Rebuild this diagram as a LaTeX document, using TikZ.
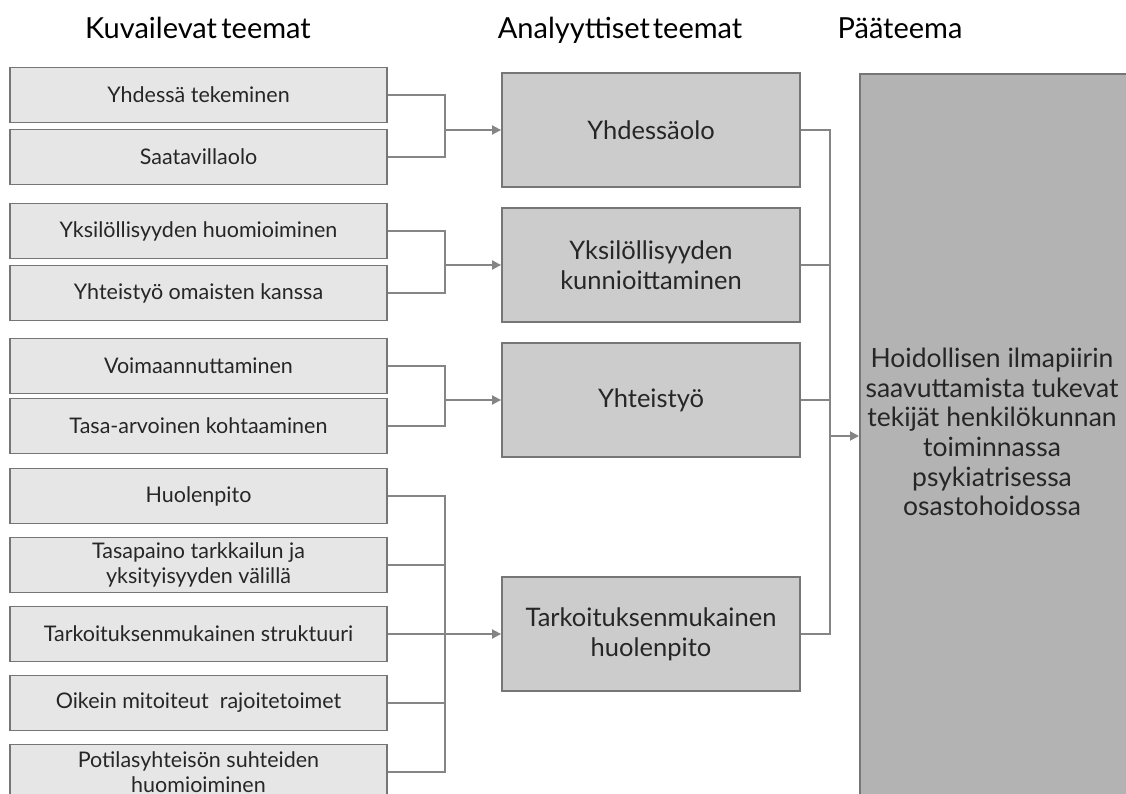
\documentclass[tikz,border=0pt]{standalone}
\usepackage{fontspec}
\setmainfont{Lato}
\usetikzlibrary{arrows.meta}
\definecolor{reuna}{HTML}{767676}
\definecolor{viiva}{HTML}{858585}
\definecolor{kuvtausta}{HTML}{E6E6E6}
\definecolor{analtausta}{HTML}{CCCCCC}
\definecolor{paatausta}{HTML}{B3B3B3}
\definecolor{teksti}{HTML}{262626}

\tikzset{
    kuvaus/.style={draw=reuna, line width=1.8pt, fill=kuvtausta, text=teksti,
        minimum width=377pt, minimum height=55pt, align=center, inner sep=1pt,
        font=\fontsize{21.5}{25}\selectfont},
    analyysi/.style={draw=reuna, line width=1.8pt, fill=analtausta, text=teksti,
        minimum width=298pt, minimum height=114pt, align=center,
        font=\fontsize{25.5}{30}\selectfont},
    otsikko/.style={text=black, anchor=base, font=\fontsize{29}{32}\selectfont},
    yhdysviiva/.style={draw=viiva, line width=1.8pt},
    nuoli/.style={yhdysviiva, -{Triangle[length=9pt,width=9pt]}}
}

\begin{document}
\begin{tikzpicture}[x=1pt,y=-1pt]
    \useasboundingbox (0,0) rectangle (1126,794);
    \clip (0,0) rectangle (1126,794);

    % otsikot
    \node[otsikko] (o1) at (198,39) {Kuvailevat\hspace{0.15em}teemat};
    \node[otsikko] (o2) at (620,39) {Analyyttiset\hspace{0.1em}teemat};
    \node[otsikko] (o3) at (900,39) {Pääteema};

    % kuvailevat teemat
    \node[kuvaus] (k1) at (198.5,95) {Yhdessä tekeminen};
    \node[kuvaus] (k2) at (198.5,157) {Saatavillaolo};
    \node[kuvaus] (k3) at (198.5,231) {Yksilöllisyyden huomioiminen};
    \node[kuvaus] (k4) at (198.5,293) {Yhteistyö omaisten kanssa};
    \node[kuvaus] (k5) at (198.5,366) {Voimaannuttaminen};
    \node[kuvaus] (k6) at (198.5,426) {Tasa-arvoinen kohtaaminen};
    \node[kuvaus] (k7) at (198.5,496) {Huolenpito};
    \node[kuvaus] (k8) at (198.5,565) {Tasapaino tarkkailun ja\\yksityisyyden välillä};
    \node[kuvaus] (k9) at (198.5,634) {Tarkoituksenmukainen struktuuri};
    \node[kuvaus] (k10) at (198.5,703) {Oikein mitoiteut \ rajoitetoimet};
    \node[kuvaus] (k11) at (198.5,772) {Potilasyhteisön suhteiden\\huomioiminen};

    % analyyttiset teemat
    \node[analyysi] (a1) at (651,130) {Yhdessäolo};
    \node[analyysi] (a2) at (651,265) {Yksilöllisyyden\\kunnioittaminen};
    \node[analyysi] (a3) at (651,400) {Yhteistyö};
    \node[analyysi] (a4) at (651,634) {Tarkoituksenmukainen\\huolenpito};

    % pääteema
    \node[draw=reuna, line width=1.8pt, fill=paatausta, minimum width=271pt,
        minimum height=760pt, anchor=north west] (p) at (859,73) {};
    \node[text=teksti, align=center, font=\fontsize{26.5}{29.6}\selectfont] (pt) at (992,432)
        {Hoidollisen ilmapiirin\\saavuttamista tukevat\\tekijät henkilökunnan\\toiminnassa\\psykiatrisessa\\osastohoidossa};

    % liitoskohdat
    \coordinate (j1) at (445,130);
    \coordinate (j2) at (445,265);
    \coordinate (j3) at (445,400);
    \coordinate (j4) at (445,634);
    \coordinate (j5) at (830,436);

    \draw[yhdysviiva] (k1.east) -| (j1) |- (k2.east);
    \draw[yhdysviiva] (k3.east) -| (j2) |- (k4.east);
    \draw[yhdysviiva] (k5.east) -| (j3) |- (k6.east);
    \draw[yhdysviiva] (k7.east) -| (j4) |- (k11.east);
    \foreach \n in {8,9,10}
        \draw[yhdysviiva] (k\n.east) -- (k\n.east -| j4);

    \draw[nuoli] (j1) -- (a1.west);
    \draw[nuoli] (j2) -- (a2.west);
    \draw[nuoli] (j3) -- (a3.west);
    \draw[nuoli] (j4) -- (a4.west);

    \draw[yhdysviiva] (a1.east) -| (j5) |- (a4.east);
    \foreach \n in {2,3}
        \draw[yhdysviiva] (a\n.east) -- (a\n.east -| j5);
    \draw[nuoli] (j5) -- (j5 -| p.west);
\end{tikzpicture}
\end{document}
